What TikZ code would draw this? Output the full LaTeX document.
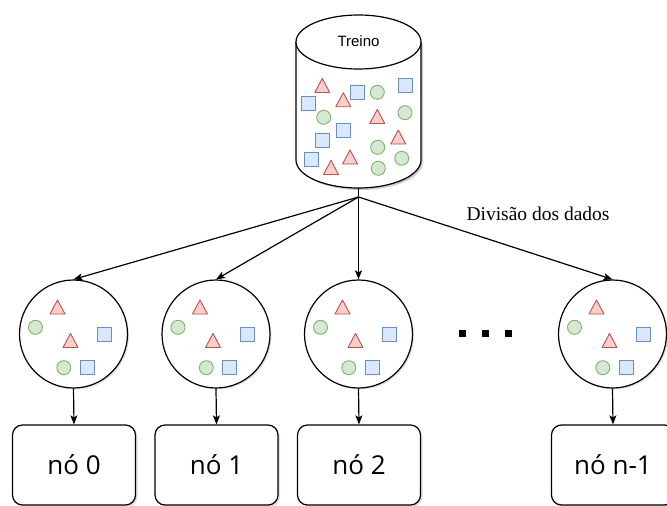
\documentclass[tikz,border=0pt]{standalone}
\usepackage{fontspec}
\setmainfont{Liberation Sans}
\newfontfamily\boxfont{Open Sans}
\newfontfamily\labelfont{Liberation Serif}
\usetikzlibrary{arrows.meta,shadows}

\definecolor{trifill}{HTML}{F8CECC}
\definecolor{tridraw}{HTML}{B85450}
\definecolor{sqfill}{HTML}{DAE8FC}
\definecolor{sqdraw}{HTML}{6C8EBF}
\definecolor{dotfill}{HTML}{D5E8D4}
\definecolor{dotdraw}{HTML}{82B366}

% small data markers, centred on (#1,#2)
\newcommand\redtri[2]{\draw[tridraw,fill=trifill,line width=0.9pt,line join=round]
  (#1-7.5,#2+7) -- (#1,#2-7) -- (#1+7.5,#2+7) -- cycle;}
\newcommand\bluesq[2]{\draw[sqdraw,fill=sqfill,line width=0.9pt]
  (#1-7,#2-7) rectangle (#1+7,#2+7);}
\newcommand\greendot[2]{\draw[dotdraw,fill=dotfill,line width=0.9pt]
  (#1,#2) circle[radius=7pt];}

\tikzset{
  outline/.style={draw=black,line width=1.2pt,fill=white},
  partition/.style={outline,circle,minimum size=108pt,inner sep=0pt,
    drop shadow={shadow xshift=1.5pt,shadow yshift=-1.5pt,opacity=0.25}},
  workerbox/.style={outline,rounded corners=10pt,minimum width=123pt,
    minimum height=80pt,font=\boxfont\fontsize{26}{30}\selectfont,
    drop shadow={shadow xshift=2pt,shadow yshift=-2pt,opacity=0.25}},
  link/.style={line width=1.2pt},
  flow/.style={link,-{Stealth[length=9pt,width=7pt,inset=2pt]}},
}

\begin{document}
\begin{tikzpicture}[x=1pt,y=-1pt]
\useasboundingbox (0,0) rectangle (667,506);
\clip (0,0) rectangle (667,506);

% training data store (cylinder)
\fill[black,opacity=0.2] (298,44) -- (298,162)
  arc[start angle=180,end angle=360,x radius=62.5pt,y radius=28pt] -- (423,44) -- cycle;
\draw[outline] (296,42) -- (296,160)
  arc[start angle=180,end angle=360,x radius=62.5pt,y radius=28pt] -- (421,42);
\draw[outline] (358.5,42) ellipse[x radius=62.5pt,y radius=27pt];
\node[font=\fontsize{15}{18}\selectfont] (treino) at (358.5,41) {Treino};
\coordinate (cylbot) at (358.5,188);
\coordinate (split) at (358.5,197);

% contents of the store
\redtri{322.3}{85.5}
\redtri{343.3}{99.7}
\redtri{377.3}{116.5}
\redtri{398.3}{137}
\redtri{350}{157}
\redtri{331}{167.5}
\bluesq{357.3}{92.5}
\bluesq{405.3}{85.8}
\bluesq{308}{103}
\bluesq{343.3}{130.3}
\bluesq{322.7}{140.3}
\bluesq{311.3}{159.3}
\greendot{377.3}{92.3}
\greendot{323.7}{117.3}
\greendot{405}{112.7}
\greendot{377.7}{147.3}
\greendot{401.7}{158.3}
\greendot{378.3}{168.3}

% partitions and worker nodes
\foreach \i/\x/\t in {0/73.5/nó 0,1/216/nó 1,2/358.5/nó 2,3/612.5/nó n-1}{
  \node[partition] (c\i) at (\x,334) {};
  \begin{scope}[shift={(\x,334)}]
    \redtri{-16}{-27}
    \greendot{-38}{-6.7}
    \redtri{-3}{6.5}
    \bluesq{31.3}{0}
    \greendot{-9.7}{33.7}
    \bluesq{13.7}{33.7}
  \end{scope}
  \node[workerbox] (b\i) at (\x+0.5,465) {\t};
}

% ellipsis between partitions
\foreach \x in {462,485,508}{
  \fill (\x-3.5,330) rectangle (\x+3.5,337);
}

% connectors
\draw[link] (cylbot) -- (split);
\foreach \i in {0,...,3}{
  \draw[flow] (split) -- (c\i.north);
  \draw[flow] (c\i.south) -- (b\i.north);
}

\node[anchor=base west,font=\labelfont\fontsize{19.5}{22}\selectfont] (divisao)
  at (463,220) {Divisão dos dados};
\end{tikzpicture}
\end{document}
